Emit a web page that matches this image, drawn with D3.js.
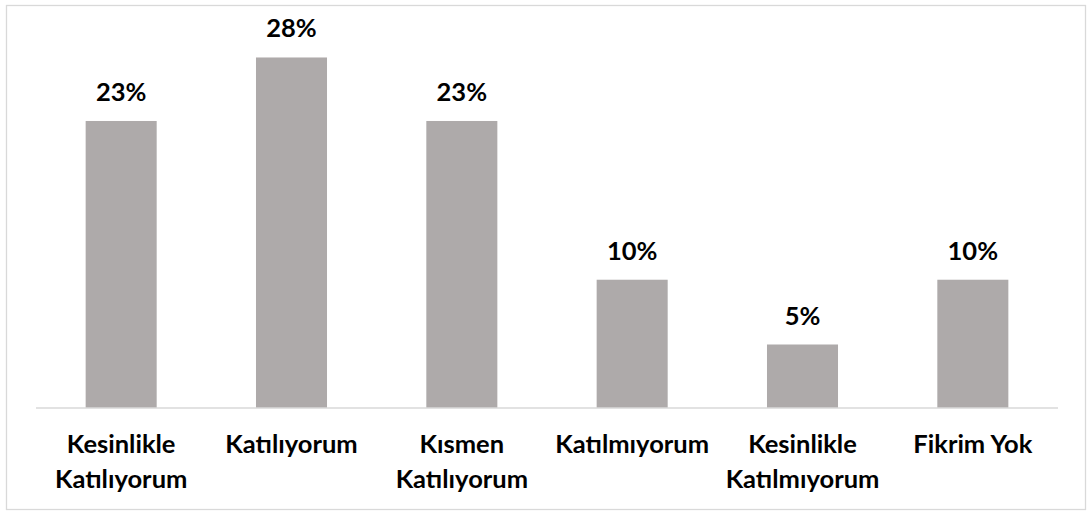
<!DOCTYPE html>
<html>
<head>
<meta charset="utf-8"/>
<title>Bar chart</title>
<style>
  body, html {margin:0; padding:0; background:#fff; overflow:hidden;}
  svg text {font-family: "Lato", "Open Sans", sans-serif; font-weight: bold; fill:#000;}
</style>
<script src="https://cdn.jsdelivr.net/npm/d3@7"></script>
</head>
<body>
<svg id="chart" width="1087" height="512"></svg>
<script>
// answers and their shares (%)
var categories = ["Kesinlikle Katılıyorum", "Katılıyorum", "Kısmen Katılıyorum",
                  "Katılmıyorum", "Kesinlikle Katılmıyorum", "Fikrim Yok"];
var values = [22.6, 27.6, 22.6, 10.1, 5.0, 10.1];

var svg = d3.select("#chart");
var fontSize = 25.5;

// outer frame
svg.append("rect")
    .attr("x", 6.5).attr("y", 5.5)
    .attr("width", 1079).attr("height", 504)
    .attr("fill", "none")
    .attr("stroke", "#d9d9d9")
    .attr("stroke-width", 1.3);

var x = d3.scaleBand()
    .domain(categories)
    .range([36, 1058])
    .paddingInner(0.583)
    .paddingOuter(0.2915);

var y = d3.scaleLinear()
    .domain([0, 30])
    .range([408, 27]);

svg.selectAll("rect.bar")
    .data(values)
    .enter().append("rect")
    .attr("class", "bar")
    .attr("x", function (d, i) { return x(categories[i]); })
    .attr("y", function (d) { return y(d); })
    .attr("width", x.bandwidth())
    .attr("height", function (d) { return y(0) - y(d); })
    .attr("fill", "#aeaaaa");

// value labels
svg.selectAll("text.val")
    .data(values)
    .enter().append("text")
    .attr("class", "val")
    .attr("x", function (d, i) { return x(categories[i]) + x.bandwidth() / 2; })
    .attr("y", function (d) { return y(d) - 20; })
    .attr("text-anchor", "middle")
    .style("font-size", fontSize + "px")
    .text(function (d) { return Math.round(d) + "%"; });

// category axis
var axis = svg.append("g")
    .attr("transform", "translate(0,408)")
    .call(d3.axisBottom(x).tickSize(0).tickPadding(0));
axis.select(".domain").remove();
axis.append("line")
    .attr("x1", 36).attr("x2", 1058)
    .attr("stroke", "#d9d9d9")
    .attr("stroke-width", 1.5);

axis.selectAll(".tick text")
    .attr("font-family", null)
    .attr("font-size", null)
    .style("font-size", fontSize + "px")
    .attr("fill", "#000")
    .each(function (d) {
        var t = d3.select(this);
        t.text(d).attr("y", 45).attr("dy", null);
        if (this.getComputedTextLength() > x.step() - 10) {
            var words = d.split(" ");
            t.text(null);
            words.forEach(function (w, k) {
                t.append("tspan").attr("x", 0).attr("y", 45 + k * 35).text(w);
            });
        }
    });
</script>
</body>
</html>
